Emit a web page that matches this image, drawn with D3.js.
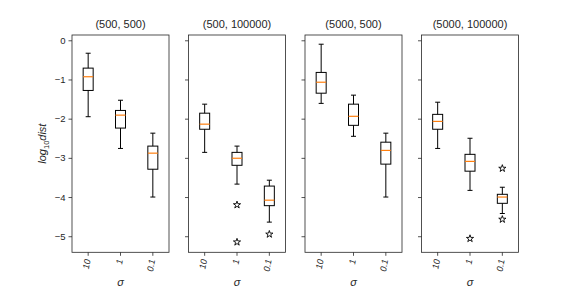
<!DOCTYPE html>
<html>
<head>
<meta charset="utf-8">
<script src="https://cdn.jsdelivr.net/npm/d3@7"></script>
<style>
  body { margin: 0; background: #fff; }
  text { font-family: "Liberation Sans", Arial, sans-serif; fill: #262626; }
</style>
</head>
<body>
<div id="chart"></div>
<script>
// panel titles and sigma categories
let titles = ["(500, 500)", "(500, 100000)", "(5000, 500)", "(5000, 100000)"];
let sigmas = ["10", "1", "0.1"];
let yTicks = [0, -1, -2, -3, -4, -5];

// box stats per panel: [whiskerLow, q1, median, q3, whiskerHigh]
let panel1 = [
    [-1.95, -1.28, -0.93, -0.71, -0.33],
    [-2.76, -2.24, -1.91, -1.79, -1.53],
    [-4.00, -3.29, -2.88, -2.70, -2.37]
];
let panel2 = [
    [-2.86, -2.27, -2.14, -1.86, -1.63],
    [-3.67, -3.19, -3.01, -2.86, -2.70],
    [-4.64, -4.22, -4.08, -3.72, -3.57]
];
let panel3 = [
    [-1.61, -1.35, -1.07, -0.82, -0.10],
    [-2.45, -2.17, -1.94, -1.63, -1.40],
    [-4.00, -3.16, -2.81, -2.60, -2.37]
];
let panel4 = [
    [-2.76, -2.27, -2.07, -1.89, -1.58],
    [-3.83, -3.34, -3.09, -2.91, -2.50],
    [-4.42, -4.16, -4.00, -3.93, -3.75]
];

// outliers per panel per box
let fliers1 = [[], [], []];
let fliers2 = [[], [-4.20, -5.15], [-4.95]];
let fliers3 = [[], [], []];
let fliers4 = [[], [-5.06], [-3.27, -4.57]];

let panels = [panel1, panel2, panel3, panel4];
let fliers = [fliers1, fliers2, fliers3, fliers4];

let dim = { width: 576, height: 288 };
let pw = 97, yTop = 35, yBottom = 252.3;
let lefts = [72, 188.5, 305, 421.5];

let svg = d3.select("#chart").append("svg")
    .attr("width", dim.width)
    .attr("height", dim.height);

let scaleY = d3.scaleLinear()
    .domain([-5.41, 0.135])
    .range([yBottom, yTop]);

let scaleX = d3.scaleBand()
    .domain(sigmas)
    .range([0, pw])
    .paddingInner(0)
    .paddingOuter(0);

let boxW = 10;

panels.forEach(function(stats, pi) {
    let g = svg.append("g").attr("transform", `translate(${lefts[pi]},0)`);

    // title
    g.append("text")
        .attr("x", pw / 2)
        .attr("y", 28)
        .attr("text-anchor", "middle")
        .attr("font-size", "11px")
        .text(titles[pi]);

    // y axis
    let ay = g.append("g")
        .call(d3.axisLeft(scaleY).tickValues(yTicks).tickSize(3.5).tickPadding(3)
              .tickFormat(d => pi === 0 ? (d < 0 ? "\u2212" + Math.abs(d) : d) : ""));
    ay.select(".domain").remove();
    ay.selectAll("line").attr("stroke", "#262626").attr("stroke-width", 0.8);
    ay.selectAll("text").attr("font-size", "9.5px").attr("fill", "#262626");

    // x axis
    let ax = g.append("g")
        .attr("transform", `translate(0,${yBottom})`)
        .call(d3.axisBottom(scaleX).tickSize(3.5).tickFormat(""));
    ax.select(".domain").remove();
    ax.selectAll("line").attr("stroke", "#262626").attr("stroke-width", 0.8);

    ax.selectAll(".tick").append("text")
        .attr("transform", "translate(0,7) rotate(-80)")
        .attr("text-anchor", "end")
        .attr("dominant-baseline", "middle")
        .attr("font-size", "9px")
        .attr("font-style", "italic")
        .attr("fill", "#262626")
        .text(d => d);

    // x label
    g.append("text")
        .attr("x", pw / 2)
        .attr("y", 286)
        .attr("text-anchor", "middle")
        .attr("font-size", "11px")
        .attr("font-family", "DejaVu Sans")
        .attr("font-style", "italic")
        .text("\u03c3");

    // boxes
    stats.forEach(function(s, i) {
        let cx = scaleX(sigmas[i]) + scaleX.bandwidth() / 2;
        let bg = g.append("g");
        // whiskers
        bg.append("line")
            .attr("x1", cx).attr("x2", cx)
            .attr("y1", scaleY(s[0])).attr("y2", scaleY(s[1]))
            .attr("stroke", "black").attr("stroke-width", 1);
        bg.append("line")
            .attr("x1", cx).attr("x2", cx)
            .attr("y1", scaleY(s[3])).attr("y2", scaleY(s[4]))
            .attr("stroke", "black").attr("stroke-width", 1);
        // caps
        [s[0], s[4]].forEach(function(v) {
            bg.append("line")
                .attr("x1", cx - boxW / 4).attr("x2", cx + boxW / 4)
                .attr("y1", scaleY(v)).attr("y2", scaleY(v))
                .attr("stroke", "black").attr("stroke-width", 1);
        });
        // box
        bg.append("rect")
            .attr("x", cx - boxW / 2)
            .attr("y", scaleY(s[3]))
            .attr("width", boxW)
            .attr("height", scaleY(s[1]) - scaleY(s[3]))
            .attr("fill", "none")
            .attr("stroke", "black").attr("stroke-width", 1);
        // median
        bg.append("line")
            .attr("x1", cx - boxW / 2).attr("x2", cx + boxW / 2)
            .attr("y1", scaleY(s[2])).attr("y2", scaleY(s[2]))
            .attr("stroke", "#ff7f0e").attr("stroke-width", 1.2);
        // fliers
        bg.selectAll("path.flier")
            .data(fliers[pi][i])
            .join("path")
            .attr("class", "flier")
            .attr("transform", d => `translate(${cx},${scaleY(d)})`)
            .attr("d", d3.symbol().type(d3.symbolStar).size(16))
            .attr("fill", "white")
            .attr("stroke", "black")
            .attr("stroke-width", 0.9);
    });

    // frame
    g.append("rect")
        .attr("x", 0).attr("y", yTop)
        .attr("width", pw).attr("height", yBottom - yTop)
        .attr("fill", "none")
        .attr("stroke", "#262626")
        .attr("stroke-width", 0.8);
});

// y label
svg.append("text")
    .attr("transform", `translate(46,${(yTop + yBottom) / 2}) rotate(-90)`)
    .attr("text-anchor", "middle")
    .attr("font-size", "11px")
    .attr("font-style", "italic")
    .attr("font-family", "DejaVu Sans")
    .html('log<tspan font-size="7.5px" dy="2.5" font-style="normal">10</tspan><tspan dy="-2.5">dist</tspan>');
</script>
</body>
</html>
